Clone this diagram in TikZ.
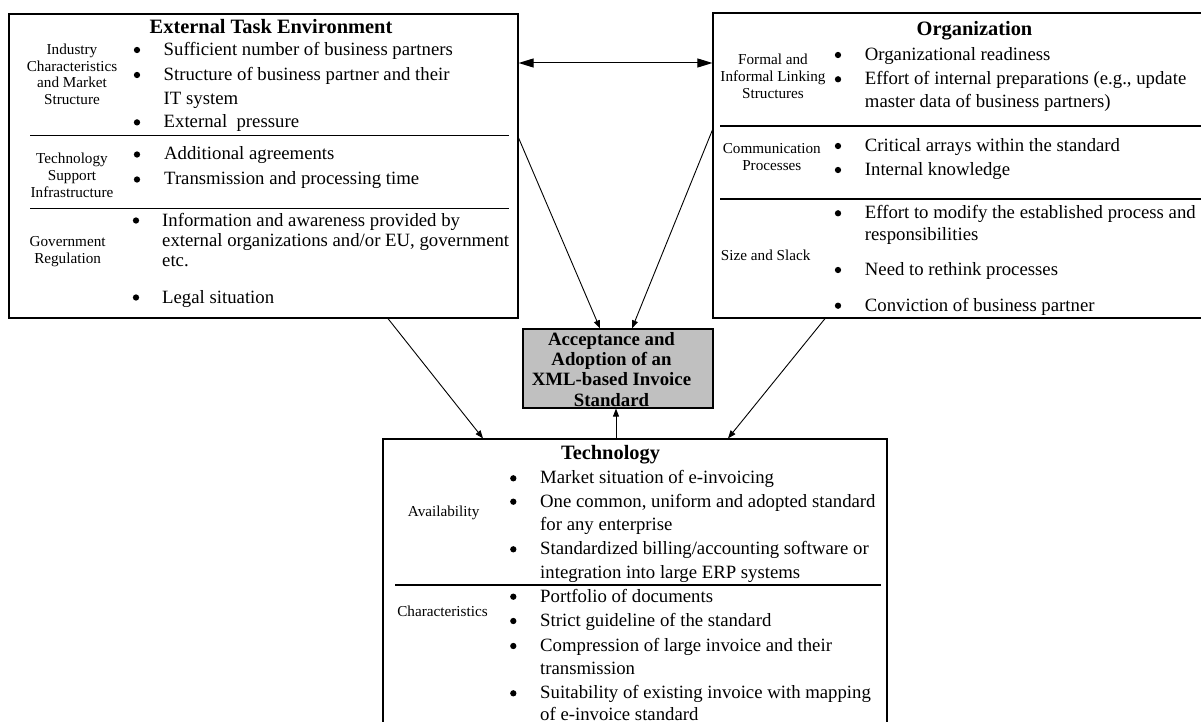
\documentclass[tikz,border=0pt]{standalone}
\usepackage{fontspec}
\setmainfont{Liberation Serif}
\usetikzlibrary{arrows.meta}
\newcommand{\fbody}{\fontsize{18.75}{23.5}\selectfont}
\newcommand{\flab}{\fontsize{15.2}{16.9}\selectfont}
\newcommand{\ftitle}{\bfseries\fontsize{20.4}{24}\selectfont}
\newcommand{\fctr}{\bfseries\fontsize{18.8}{20.3}\selectfont}
\definecolor{boxgray}{HTML}{C0C0C0}
\begin{document}
\begin{tikzpicture}[x=1pt,y=-1pt,
  box/.style={draw=black, line width=1.2pt, inner sep=0, fill=white},
  div/.style={line width=1.2pt},
  body/.style={anchor=base west, inner sep=0, font=\fbody},
  dot/.style={circle, fill=black, inner sep=0, minimum size=6.3pt},
  lab/.style={anchor=base, align=center, inner sep=0, font=\flab},
  ttl/.style={anchor=base, inner sep=0, font=\ftitle},
  arr/.style={-{Triangle[length=8pt,width=6pt]}, line width=0.9pt},
  dbl/.style={{Triangle[length=15pt,width=9pt]}-{Triangle[length=15pt,width=9pt]}, line width=1pt}]
\useasboundingbox (0,0) rectangle (1201,722);
\clip (0,0) rectangle (1201,722);

% boxes
\node[box, minimum width=509pt, minimum height=304pt] (ext) at (263.5,166) {};
\node[box, minimum width=493pt, minimum height=305pt] (org) at (959.5,165.5) {};
\node[box, minimum width=504pt, minimum height=291pt] (tech) at (635,584.5) {};
\node[box, fill=boxgray, minimum width=190pt, minimum height=79pt, inner ysep=-5pt, font=\fctr] (ctr) at (618,368.5)
  {\begin{tabular}{@{}c@{\hspace{13pt}}}\rule{0pt}{20.2pt}Acceptance and\\Adoption of an\\XML-based Invoice\\Standard\end{tabular}};

% dividers
\draw[div] (30,135.2) -- (509,135.2);
\draw[div] (30,208.6) -- (509,208.6);
\draw[div] (720,126) -- (1201,126);
\draw[div] (720,199) -- (1201,199);
\draw[div] (395,585) -- (881,585);

% External Task Environment
\node[ttl] (extT) at (271,33.5) {External Task Environment};
\node[lab] (la1) at (72,104.9) {Industry\\Characteristics\\and Market\\Structure};
\node[lab] (la2) at (72,197.2) {Technology\\Support\\Infrastructure};
\node[lab] (la3) at (67.6,263.5) {Government\\Regulation};
\node[dot] (ed1) at (137,50) {};
\node[body] (e1) at (163.5,55.5) {Sufficient number of business partners};
\node[dot] (ed2) at (137,75) {};
\node[body] (e2) at (163.5,80.5) {Structure of business partner and their};
\node[body] (e2b) at (163.5,104.2) {IT system};
\node[dot] (ed3) at (137,122.4) {};
\node[body] (e3) at (163.5,127.9) {External\ \ pressure};
\node[dot] (ed4) at (137,154.5) {};
\node[body] (e4) at (164,160) {Additional agreements};
\node[dot] (ed5) at (137,179.5) {};
\node[body] (e5) at (164,185) {Transmission and processing time};
\node[dot] (ed6) at (136,220.5) {};
\node[body] (e6) at (162,226) {Information and awareness provided by};
\node[body] (e6b) at (162,246.5) {external organizations and/or EU, government};
\node[body] (e6c) at (162,266.8) {etc.};
\node[dot] (ed7) at (136,297.5) {};
\node[body] (e7) at (162,303) {Legal situation};

% Organization
\node[ttl] (orgT) at (974.5,35.3) {Organization};
\node[lab] (lb1) at (773,98.5) {Formal and\\Informal Linking\\Structures};
\node[lab] (lb2) at (771.8,170.5) {Communication\\Processes};
\node[lab] (lb3) at (765.7,260.5) {Size and Slack};
\node[dot] (od1) at (838,55) {};
\node[body] (o1) at (864.7,60.5) {Organizational readiness};
\node[dot] (od2) at (838,79.3) {};
\node[body] (o2) at (864.7,84.8) {Effort of internal preparations (e.g., update};
\node[body] (o2b) at (864.7,107.2) {master data of business partners)};
\node[dot] (od3) at (838,146) {};
\node[body] (o3) at (864.7,151.5) {Critical arrays within the standard};
\node[dot] (od4) at (838,170) {};
\node[body] (o4) at (864.7,175.5) {Internal knowledge};
\node[dot] (od5) at (838,213.3) {};
\node[body] (o5) at (864.7,218.8) {Effort to modify the established process and};
\node[body] (o5b) at (864.7,240.5) {responsibilities};
\node[dot] (od6) at (838,270) {};
\node[body] (o6) at (864.7,275.5) {Need to rethink processes};
\node[dot] (od7) at (838,305.7) {};
\node[body] (o7) at (864.7,311.2) {Conviction of business partner};

% Technology
\node[ttl] (techT) at (610.5,459.7) {Technology};
\node[lab] (lc1) at (443.7,516.2) {Availability};
\node[lab] (lc2) at (442.5,616.2) {Characteristics};
\node[dot] (td1) at (513.3,478.3) {};
\node[body] (t1) at (540,483.8) {Market situation of e-invoicing};
\node[dot] (td2) at (513.3,501.7) {};
\node[body] (t2) at (540,507.2) {One common, uniform and adopted standard};
\node[body] (t2b) at (540,530.5) {for any enterprise};
\node[dot] (td3) at (513.3,549.3) {};
\node[body] (t3) at (540,554.8) {Standardized billing/accounting software or};
\node[body] (t3b) at (540,578.2) {integration into large ERP systems};
\node[dot] (td4) at (513.3,596.7) {};
\node[body] (t4) at (540,602.2) {Portfolio of documents};
\node[dot] (td5) at (513.3,621) {};
\node[body] (t5) at (540,626.5) {Strict guideline of the standard};
\node[dot] (td6) at (513.3,646) {};
\node[body] (t6) at (540,651.5) {Compression of large invoice and their};
\node[body] (t6b) at (540,674.2) {transmission};
\node[dot] (td7) at (513.3,693.3) {};
\node[body] (t7) at (540,698.8) {Suitability of existing invoice with mapping};
\node[body] (t7b) at (540,720.5) {of e-invoice standard};

% connectors
\draw[dbl] (ext.east |- 0,63) -- (org.west |- 0,63);
\draw[arr] (ext.east |- 0,138) -- (ctr.north -| 600,0);
\draw[arr] (org.west |- 0,130) -- (ctr.north -| 632,0);
\draw[arr] (ext.south -| 388,0) -- (tech.north -| 483,0);
\draw[arr] (org.south -| 825,0) -- (tech.north -| 728,0);
\draw[arr] (tech.north -| 616,0) -- (ctr.south -| 616,0);
\end{tikzpicture}
\end{document}
